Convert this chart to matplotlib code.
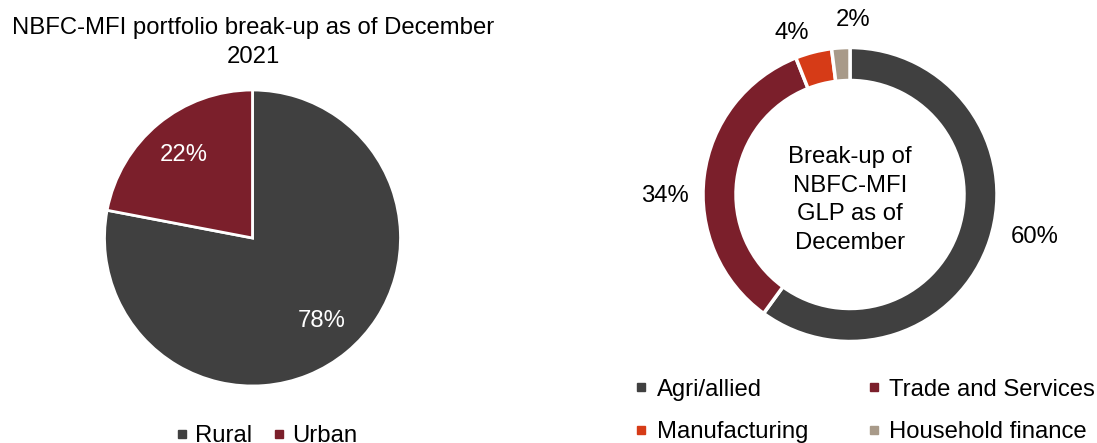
import matplotlib
matplotlib.use("Agg")
import matplotlib.pyplot as plt
from matplotlib.lines import Line2D

plt.rcParams['font.family'] = ['Liberation Sans', 'DejaVu Sans']

# Portfolio by geography
area_labels = ["Rural", "Urban"]
area_share = [78, 22]

# GLP by purpose
purpose_labels = ["Agri/allied", "Trade and Services", "Manufacturing", "Household finance"]
purpose_share = [60, 34, 4, 2]

area_colors = ["#404040", "#7B1F2B"]
purpose_colors = ["#404040", "#7B1F2B", "#D63B17", "#A89A89"]

W, H = 1097, 443
fig = plt.figure(figsize=(W / 100, H / 100), dpi=100)
ax = fig.add_axes([0, 0, 1, 1])

FS = 17.2

def Y(py):
    return H - py

def reset_axes():
    ax.set_xlim(0, W)
    ax.set_ylim(0, H)
    ax.set_aspect("equal")
    ax.axis("off")

# Left pie
ax.pie(area_share, colors=area_colors, startangle=90, counterclock=False,
       center=(252.5, Y(238)), radius=148, frame=True,
       wedgeprops=dict(edgecolor="white", linewidth=2),
       autopct=lambda p: f"{p:.0f}%", pctdistance=0.73,
       textprops=dict(color="white", fontsize=FS))
reset_axes()

ax.text(253, Y(28), "NBFC-MFI portfolio break-up as of December", ha="center", va="center", fontsize=FS)
ax.text(253, Y(57), "2021", ha="center", va="center", fontsize=FS)

# Right donut
ax.pie(purpose_share, colors=purpose_colors, startangle=90, counterclock=False,
       center=(850, Y(194.5)), radius=147, frame=True,
       wedgeprops=dict(width=33, edgecolor="white", linewidth=2.5))
reset_axes()

label_pos = [(1035, 237), (665, 196), (792, 33), (853, 20)]
for v, (px, py) in zip(purpose_share, label_pos):
    ax.text(px, Y(py), f"{v}%", ha="center", va="center", fontsize=FS)

ax.text(850, Y(200), "Break-up of\nNBFC-MFI\nGLP as of\nDecember", ha="center", va="center",
        fontsize=FS, linespacing=1.38)

def handles(colors, labels):
    return [Line2D([], [], marker="s", linestyle="none", markersize=6,
                   markerfacecolor=c, markeredgecolor=c, label=l)
            for c, l in zip(colors, labels)]

leg1 = ax.legend(handles=handles(area_colors, area_labels), loc="center",
                 bbox_to_anchor=(266 / W, 1 - 436 / H), ncol=2, frameon=False,
                 fontsize=FS, handlelength=0.6, handletextpad=0.25, columnspacing=0.8,
                 borderpad=0, borderaxespad=0)
ax.add_artist(leg1)

# two columns filled row by row
order = [0, 2, 1, 3]
h2 = handles(purpose_colors, purpose_labels)
ax.legend(handles=[h2[i] for i in order], loc="center",
          bbox_to_anchor=(864.5 / W, 1 - 411 / H), ncol=2, frameon=False,
          fontsize=FS, handlelength=0.6, handletextpad=0.35, columnspacing=2.45,
          labelspacing=0.85, borderpad=0, borderaxespad=0)

fig.savefig("out.png", dpi=100, facecolor="white")
